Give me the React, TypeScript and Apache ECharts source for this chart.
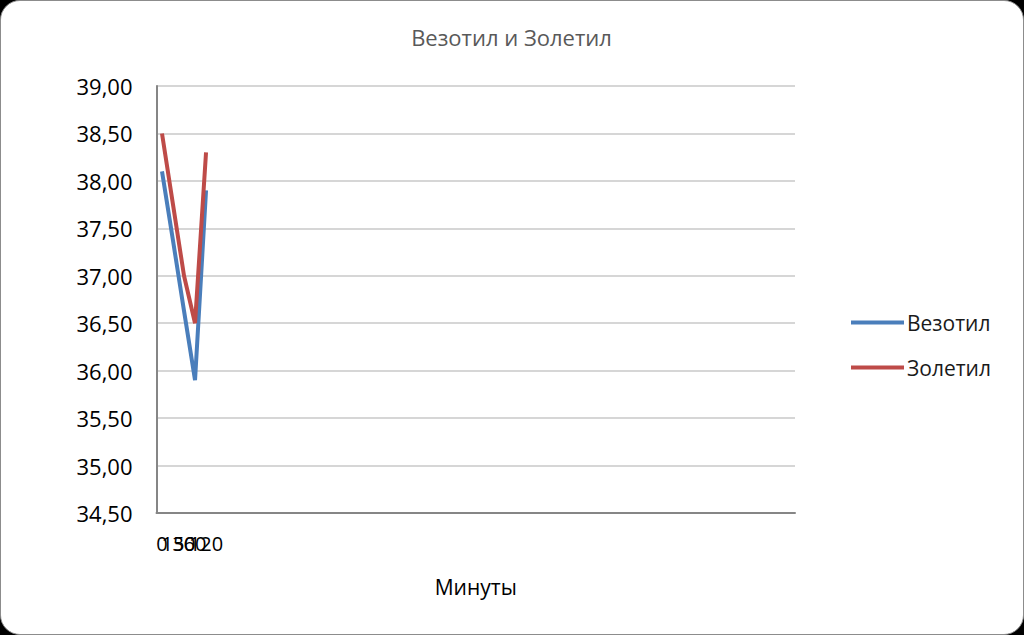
import React, { useEffect, useRef } from "react";
import * as echarts from "echarts";

const minuteLabels = ["0", "15", "30", "60", "120"];
const totalCategories = 58;
const vezotil = [38.1, 37.37, 36.63, 35.9, 37.9];
const zoletil = [38.5, 37.75, 37.0, 36.5, 38.3];
const seriesNames = ["Везотил", "Золетил"];
const titleText = "Везотил и Золетил";
const xAxisName = "Минуты";

const FONT = "'Open Sans', 'Noto Sans', sans-serif";

export default function App() {
  const ref = useRef<HTMLDivElement>(null);
  useEffect(() => {
    if (!ref.current) return;
    const chart = echarts.init(ref.current, undefined, { renderer: "svg" });
    const cats: string[] = [];
    for (let i = 0; i < totalCategories; i++) cats.push(i < minuteLabels.length ? minuteLabels[i] : "");
    chart.setOption({
      animation: false,
      backgroundColor: "transparent",
      title: {
        text: titleText,
        left: "center",
        top: 20,
        textStyle: { fontFamily: FONT, fontSize: 22, fontWeight: "normal", color: "#595959" },
      },
      legend: {
        orient: "vertical",
        left: 845,
        top: 306,
        itemGap: 24,
        icon: "rect",
        itemWidth: 53,
        itemHeight: 4,
        textStyle: { fontFamily: FONT, fontSize: 21, color: "#1a1a1a", padding: [0, 0, 0, -2] },
        data: seriesNames,
      },
      grid: { left: 155.5, right: 227, top: 85, bottom: 120, containLabel: false },
      xAxis: {
        type: "category",
        data: cats,
        boundaryGap: true,
        name: xAxisName,
        nameLocation: "middle",
        nameGap: 63,
        nameTextStyle: { fontFamily: FONT, fontSize: 21, color: "#000" },
        axisLine: { lineStyle: { color: "#868686", width: 2 } },
        axisTick: { show: false },
        axisLabel: {
          interval: 0,
          hideOverlap: false,
          margin: 20,
          fontFamily: FONT,
          fontSize: 20,
          color: "#000",
        },
        splitLine: { show: false },
      },
      yAxis: {
        type: "value",
        min: 34.5,
        max: 39,
        interval: 0.5,
        axisLine: { show: true, lineStyle: { color: "#868686", width: 2 } },
        axisTick: { show: false },
        axisLabel: {
          margin: 24,
          fontFamily: FONT,
          fontSize: 22,
          color: "#000",
          formatter: (v: number) => v.toFixed(2).replace(".", ","),
        },
        splitLine: { lineStyle: { color: "#c8c8c8", width: 1.5 } },
      },
      series: [
        {
          name: seriesNames[0],
          type: "line",
          data: vezotil,
          symbol: "none",
          lineStyle: { color: "#4a7ebb", width: 4 },
          itemStyle: { color: "#4a7ebb" },
        },
        {
          name: seriesNames[1],
          type: "line",
          data: zoletil,
          symbol: "none",
          lineStyle: { color: "#be4b48", width: 4 },
          itemStyle: { color: "#be4b48" },
        },
      ],
    });
    return () => chart.dispose();
  }, []);
  return (
    <div style={{ position: "fixed", left: 0, top: 0, width: 1024, height: 635, background: "#000" }}>
      <div
        style={{
          position: "absolute",
          left: 0,
          top: 0,
          width: 1024,
          height: 635,
          boxSizing: "border-box",
          background: "#fff",
          borderRadius: 20,
          border: "1.5px solid #8c8c8c",
        }}
      >
        <div ref={ref} style={{ width: 1021, height: 632 }} />
      </div>
    </div>
  );
}
